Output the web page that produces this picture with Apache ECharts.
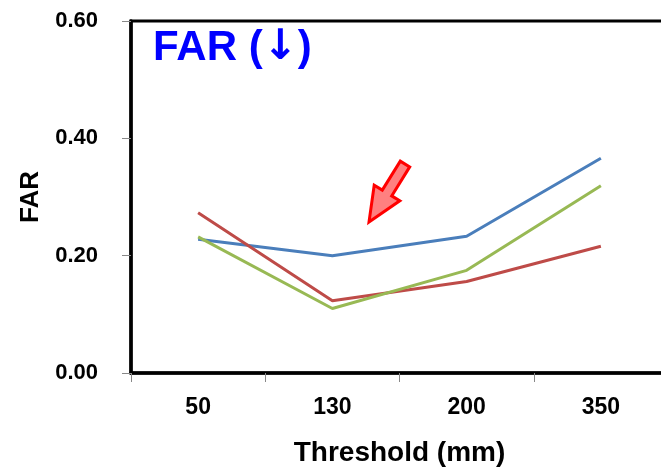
<!DOCTYPE html>
<html>
<head>
<meta charset="utf-8">
<script src="https://cdn.jsdelivr.net/npm/echarts@6/dist/echarts.min.js"></script>
<style>
html,body{margin:0;padding:0;background:#fff;overflow:hidden;}
#chart{position:absolute;left:0;top:0;width:680px;height:467px;}
</style>
</head>
<body>
<div id="chart"></div>
<script>
var categories = ['50', '130', '200', '350'];
var blueSeries = [0.228, 0.200, 0.233, 0.366];
var redSeries = [0.273, 0.123, 0.156, 0.216];
var greenSeries = [0.232, 0.110, 0.175, 0.319];
var yTicks = [0, 0.2, 0.4, 0.6];

var FONT = '"Liberation Sans", Arial, sans-serif';
var chart = echarts.init(document.getElementById('chart'), null, {renderer: 'canvas', width: 680, height: 467});

function line(name, data, color) {
  return {
    name: name, type: 'line', data: data, symbol: 'none',
    lineStyle: {color: color, width: 3},
    itemStyle: {color: color},
    animation: false
  };
}

chart.setOption({
  animation: false,
  backgroundColor: '#ffffff',
  title: {
    text: 'FAR ({a|\u2193})',
    left: 148, top: 22,
    textStyle: {
      color: '#0000FF', fontSize: 42, fontWeight: 'bold', fontFamily: FONT,
      rich: {
        a: {color: '#0000FF', fontSize: 42, fontWeight: 'bold', fontFamily: '"DejaVu Sans", sans-serif'}
      }
    }
  },
  grid: {
    left: 131, top: 21, right: 12, bottom: 94,
    outerBoundsMode: 'none',
    containLabel: false,
    show: true, borderColor: '#000', borderWidth: 3, backgroundColor: 'transparent'
  },
  xAxis: {
    type: 'category',
    data: categories,
    boundaryGap: true,
    name: 'Threshold (mm)',
    nameLocation: 'middle',
    nameGap: 66,
    nameTextStyle: {fontSize: 28, fontWeight: 'bold', color: '#000', fontFamily: FONT},
    axisLine: {show: true, lineStyle: {color: '#000', width: 3.5}},
    axisTick: {show: true, inside: false, length: 9, alignWithLabel: false, lineStyle: {color: '#888', width: 1}},
    axisLabel: {margin: 23, fontSize: 23, fontWeight: 'bold', color: '#000', fontFamily: FONT},
    splitLine: {show: false}
  },
  yAxis: {
    type: 'value',
    min: yTicks[0], max: yTicks[yTicks.length - 1], interval: 0.2,
    name: 'FAR',
    nameLocation: 'middle',
    nameGap: 81,
    nameRotate: 90,
    nameTextStyle: {fontSize: 26, fontWeight: 'bold', color: '#000', fontFamily: FONT},
    axisLine: {show: true, lineStyle: {color: '#000', width: 3.5}},
    axisTick: {show: true, inside: false, length: 9, lineStyle: {color: '#888', width: 1}},
    axisLabel: {
      margin: 33, fontSize: 22, fontWeight: 'bold', color: '#000', fontFamily: FONT,
      formatter: function (v) { return v.toFixed(2); }
    },
    splitLine: {show: false}
  },
  graphic: [{
    type: 'polygon',
    z: 100,
    shape: {
      points: [[369, 222], [399.8, 200.8], [391.7, 195.9], [409.7, 166.9], [400.3, 161.1], [382.3, 190.1], [374.2, 185.2]]
    },
    style: {fill: '#FF8080', stroke: '#FF0000', lineWidth: 3, lineJoin: 'miter'}
  }],
  series: [
    line('Series 1', blueSeries, '#4A7EBB'),
    line('Series 2', redSeries, '#BE4B48'),
    line('Series 3', greenSeries, '#98B954')
  ]
});
</script>
</body>
</html>
